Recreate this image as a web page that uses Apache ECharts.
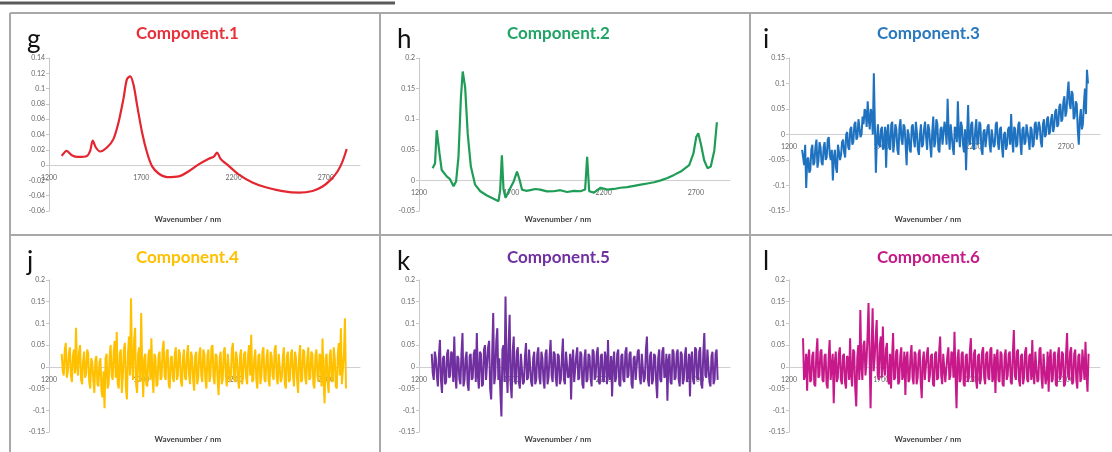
<!DOCTYPE html>
<html>
<head>
<meta charset="utf-8">
<script src="https://cdn.jsdelivr.net/npm/echarts@6/dist/echarts.min.js"></script>
<style>
  html, body { margin: 0; padding: 0; background: #fff; }
  #chart { width: 1112px; height: 452px; }
</style>
</head>
<body>
<div id="chart"></div>
<script>
// 组分光谱数据
const c1Wl = [1269,1296,1323,1359,1405,1423,1437,1454,1477,1514,1549,1577,1604,1622,1640,1658,1677,1704,1731,1758,1794,1840,1903,1957,2011,2066,2093,2111,2129,2175,2229,2302,2374,2465,2555,2628,2682,2727,2764,2791,2813];
const c1Val = [0.012,0.0187,0.013,0.0107,0.012,0.0187,0.032,0.023,0.0178,0.023,0.034,0.056,0.0876,0.112,0.116,0.105,0.0787,0.043,0.0164,-0.0013,-0.011,-0.0156,-0.0147,-0.008,0.001,0.0084,0.011,0.0164,0.0084,-0.0013,-0.0124,-0.0227,-0.029,-0.034,-0.036,-0.0338,-0.028,-0.019,-0.008,0.0053,0.021];

const c2Wl = [1274,1287,1296,1311,1323,1350,1368,1387,1401,1414,1427,1437,1450,1464,1481,1504,1532,1568,1604,1631,1640,1649,1658,1669,1686,1713,1731,1745,1758,1780,1803,1830,1857,1893,1930,1966,2002,2040,2075,2100,2111,2122,2148,2184,2220,2256,2292,2328,2365,2401,2437,2474,2510,2546,2582,2618,2664,2687,2702,2713,2727,2745,2763,2781,2800,2814];
const c2Val = [0.020,0.028,0.082,0.044,0.017,0.0065,0.002,-0.0097,-0.0016,0.039,0.135,0.178,0.152,0.076,0.0226,-0.007,-0.0177,-0.0247,-0.030,-0.0339,-0.015,0.041,-0.015,-0.0285,-0.0177,-0.0016,0.0145,0.001,-0.015,-0.017,-0.016,-0.014,-0.015,-0.018,-0.0177,-0.016,-0.019,-0.017,-0.0177,-0.015,0.0387,-0.0177,-0.020,-0.012,-0.015,-0.014,-0.012,-0.011,-0.009,-0.007,-0.005,-0.003,0.000,0.004,0.009,0.0145,0.025,0.044,0.071,0.077,0.060,0.033,0.020,0.0226,0.049,0.095];

// 噪声较大的组分：等间隔采样，起止波长 + 数值
const c3Range = [1271, 2820];
const c3Val = [
  -0.03,-0.045,-0.06,-0.02,-0.105,-0.05,-0.045,-0.075,-0.07,-0.03,
  -0.02,-0.06,-0.055,-0.025,-0.01,-0.065,-0.05,-0.015,-0.025,-0.055,
  -0.06,-0.025,-0.015,-0.05,-0.045,-0.01,-0.005,-0.04,-0.05,-0.03,
  -0.09,-0.045,-0.03,-0.065,-0.075,-0.02,-0.02,-0.05,-0.04,-0.015,
  -0.01,-0.035,-0.045,0.0,0.005,-0.025,-0.03,0.01,0.015,-0.02,
  -0.015,0.02,0.025,-0.01,-0.005,0.03,0.03,-0.005,0.0,0.035,
  0.02,0.05,0.045,0.015,0.065,0.03,0.01,0.05,0.04,0.0,
  0.12,0.02,-0.075,-0.01,0.02,-0.02,-0.025,0.01,0.015,-0.03,
  -0.02,0.015,-0.065,0.005,0.02,-0.025,-0.03,0.02,0.025,-0.035,
  -0.015,0.02,0.01,-0.03,-0.04,0.015,0.03,-0.01,-0.02,0.02,
  0.015,-0.02,-0.06,0.01,0.0,-0.03,-0.035,0.015,0.02,-0.01,
  -0.025,0.025,0.005,-0.03,-0.04,0.0,0.02,-0.025,-0.02,0.01,
  0.025,-0.005,-0.03,0.02,0.01,-0.02,-0.045,0.005,0.035,-0.025,
  -0.015,0.03,0.02,-0.03,-0.035,0.01,0.015,-0.02,-0.02,0.025,
  0.01,-0.02,0.07,0.005,-0.03,0.02,0.02,-0.025,-0.04,0.015,
  0.01,-0.015,0.065,0.0,-0.025,0.025,0.015,-0.02,-0.035,0.01,
  -0.07,0.0,0.058,-0.015,-0.02,0.02,0.025,-0.025,-0.03,0.01,
  0.03,-0.02,-0.015,0.025,0.02,-0.03,-0.04,0.005,0.01,-0.025,
  -0.025,0.015,0.02,-0.02,-0.035,0.01,0.01,-0.025,-0.02,0.02,
  0.025,-0.015,-0.03,0.01,0.015,-0.025,-0.045,0.0,0.005,-0.03,
  -0.02,0.01,0.015,-0.02,0.04,-0.01,-0.035,0.015,0.01,-0.025,
  -0.02,0.02,0.025,-0.015,-0.04,0.01,0.015,-0.02,-0.015,0.02,
  0.02,-0.01,-0.03,0.015,0.01,-0.025,-0.02,0.02,0.025,-0.01,
  -0.01,0.025,0.015,-0.015,-0.025,0.02,0.03,-0.005,0.0,0.03,
  0.035,0.0,0.005,0.03,0.04,0.005,0.015,0.045,0.05,0.015,
  0.02,0.055,0.06,0.025,0.03,0.065,0.075,0.035,0.045,0.08,
  0.104,0.06,0.05,0.085,0.08,0.03,0.035,0.065,0.06,0.01,
  -0.02,0.03,0.05,0.01,0.02,0.06,0.09,0.04,0.127,0.1
];

const c4Range = [1269, 2809];
const c4Val = [
  0.03,-0.01,-0.02,0.04,0.055,-0.025,-0.01,0.03,0.045,-0.02,
  -0.035,0.025,0.04,-0.015,0.09,0.0,-0.02,0.035,0.05,-0.03,
  -0.04,0.015,0.035,-0.025,-0.015,0.04,0.03,-0.035,-0.05,0.02,
  0.01,-0.03,-0.06,0.015,0.025,-0.04,-0.045,0.01,0.02,-0.055,
  -0.07,-0.01,-0.095,0.02,0.03,-0.05,-0.04,0.025,0.05,-0.02,
  -0.03,0.035,0.06,-0.025,0.08,-0.04,-0.05,0.03,0.04,-0.06,
  -0.02,0.04,0.055,-0.05,-0.075,0.03,0.07,-0.02,0.158,0.01,
  -0.03,0.06,0.09,-0.04,-0.06,0.03,0.045,-0.035,0.124,0.0,
  -0.07,0.02,0.03,-0.04,-0.045,0.025,0.04,-0.03,0.066,-0.02,
  -0.06,0.03,0.02,-0.045,-0.04,0.025,0.035,-0.03,-0.025,0.04,
  0.06,-0.02,-0.03,0.035,0.04,-0.04,-0.05,0.02,0.025,-0.025,
  -0.035,0.03,0.045,-0.03,-0.02,0.04,0.03,-0.035,-0.045,0.02,
  0.04,-0.025,-0.03,0.03,0.05,-0.02,-0.04,0.035,0.02,-0.03,
  -0.055,0.025,0.035,-0.04,-0.025,0.03,0.045,-0.02,-0.035,0.04,
  0.03,-0.03,-0.05,0.025,0.04,-0.035,-0.02,0.045,0.05,-0.025,
  -0.04,0.03,0.025,-0.03,-0.065,0.02,0.035,-0.04,-0.03,0.035,
  0.045,-0.02,-0.045,0.03,0.03,-0.035,-0.02,0.04,0.055,-0.025,
  -0.035,0.035,0.02,-0.03,-0.05,0.025,0.04,-0.04,-0.025,0.03,
  0.035,-0.025,-0.04,0.03,0.05,-0.02,0.074,-0.035,-0.03,0.02,
  0.04,-0.03,-0.05,0.025,0.03,-0.04,-0.02,0.035,0.045,-0.03,
  -0.035,0.02,0.04,-0.03,-0.045,0.035,0.025,-0.02,-0.03,0.04,
  0.05,-0.025,-0.04,0.03,0.03,-0.035,-0.025,0.02,0.045,-0.04,
  -0.05,0.025,0.035,-0.035,-0.03,0.03,0.04,-0.02,-0.045,0.035,
  0.02,-0.03,-0.06,0.025,0.05,-0.035,-0.03,0.04,0.035,-0.025,
  -0.04,0.02,0.045,-0.03,-0.025,0.035,0.03,-0.04,-0.05,0.025,
  0.04,-0.02,-0.035,0.03,0.025,-0.045,0.065,-0.03,-0.084,0.02,
  0.03,-0.035,-0.06,0.025,0.04,-0.03,-0.035,0.045,0.02,-0.045,
  -0.05,0.03,0.055,-0.02,0.089,-0.04,-0.04,0.03,0.112,-0.05
];

const c5Range = [1269, 2818];
const c5Val = [
  0.03,-0.015,-0.03,0.035,0.02,-0.02,-0.045,0.025,0.062,-0.03,
  -0.06,0.02,0.025,-0.04,-0.035,0.03,0.04,-0.025,-0.02,0.035,
  0.03,-0.035,0.07,-0.02,-0.05,0.025,0.02,-0.03,-0.04,0.03,
  0.078,-0.045,-0.03,0.02,0.035,-0.04,-0.055,0.025,0.03,-0.03,
  -0.025,0.03,0.04,-0.035,0.078,-0.02,-0.05,0.035,0.03,-0.045,
  -0.04,0.04,0.05,-0.03,-0.03,0.045,0.06,-0.05,-0.075,0.03,
  0.124,-0.04,-0.02,0.06,0.089,-0.03,0.02,-0.06,-0.114,0.04,
  0.05,-0.035,0.162,0.0,-0.06,0.05,0.12,-0.04,-0.072,0.035,
  0.07,-0.03,-0.04,0.035,0.045,-0.035,-0.05,0.03,0.03,-0.04,
  -0.035,0.025,0.055,-0.03,-0.025,0.04,0.04,-0.035,-0.045,0.02,
  0.035,-0.04,-0.03,0.03,0.045,-0.025,-0.04,0.035,0.02,-0.03,
  -0.05,0.03,0.04,-0.04,-0.025,0.025,0.062,-0.02,-0.035,0.035,
  0.03,-0.025,-0.045,0.03,0.025,-0.04,-0.03,0.02,0.065,-0.03,
  -0.04,0.035,0.035,-0.025,-0.02,0.03,-0.075,0.015,0.04,-0.035,
  -0.035,0.025,0.045,-0.03,-0.025,0.035,0.03,-0.04,-0.05,0.02,
  0.04,-0.035,-0.03,0.03,0.025,-0.025,-0.045,0.04,0.035,-0.03,
  -0.02,0.03,0.045,-0.035,-0.04,0.025,0.03,-0.03,-0.035,0.035,
  0.02,-0.04,0.062,-0.02,-0.03,0.025,-0.068,0.01,0.035,-0.035,
  -0.025,0.03,0.04,-0.04,-0.045,0.025,0.03,-0.03,-0.035,0.035,
  0.045,-0.025,-0.02,0.03,0.035,-0.04,-0.05,0.02,0.025,-0.03,
  -0.03,0.035,0.04,-0.025,-0.04,0.03,0.03,-0.035,-0.025,0.04,
  0.07,-0.03,-0.045,0.025,0.035,-0.04,-0.03,0.03,0.025,-0.035,
  -0.072,0.02,0.04,-0.03,-0.035,0.035,0.045,-0.025,-0.02,0.03,
  -0.078,0.015,0.03,-0.035,-0.04,0.04,0.035,-0.03,-0.025,0.03,
  0.04,-0.03,-0.045,0.035,0.03,-0.04,-0.03,0.025,0.045,-0.035,
  -0.02,0.03,-0.068,0.02,0.035,-0.03,-0.04,0.045,0.04,-0.025,
  -0.03,0.035,0.045,-0.04,-0.05,0.03,0.078,-0.02,-0.025,0.04,
  0.04,-0.035,-0.045,0.025,0.035,-0.04,-0.03,0.03,0.04,-0.03
];

const c6Range = [1276, 2823];
const c6Val = [
  0.066,-0.03,-0.02,0.03,-0.055,0.02,0.04,-0.035,-0.03,0.025,
  0.035,-0.04,-0.045,0.03,0.066,-0.025,-0.02,0.035,0.04,-0.03,
  -0.035,0.025,0.03,-0.04,-0.05,0.02,0.062,-0.03,-0.03,0.03,
  -0.084,0.01,0.035,-0.035,-0.025,0.03,0.045,-0.03,-0.04,0.025,
  0.03,-0.035,-0.05,0.025,0.02,-0.03,0.066,-0.02,-0.045,0.04,
  0.035,-0.05,-0.091,0.02,0.05,-0.03,0.131,0.0,-0.03,0.05,
  0.06,-0.02,0.01,0.07,0.147,0.03,-0.095,0.04,0.135,-0.01,
  0.02,0.07,0.108,-0.02,-0.03,0.05,0.07,-0.025,0.093,0.0,
  -0.02,0.04,0.055,-0.03,-0.04,0.03,-0.05,0.02,0.078,-0.03,
  -0.025,0.035,0.04,-0.04,-0.035,0.025,0.045,-0.03,-0.02,0.035,
  -0.065,0.02,0.035,-0.035,-0.03,0.025,0.05,-0.025,-0.04,0.035,
  0.03,-0.04,-0.025,0.03,0.04,-0.035,-0.072,0.015,0.035,-0.03,
  -0.03,0.03,0.045,-0.035,-0.02,0.025,0.03,-0.04,-0.045,0.03,
  0.035,-0.03,-0.025,0.035,0.07,-0.02,-0.04,0.03,0.03,-0.035,
  -0.035,0.025,0.045,-0.03,-0.02,0.035,0.03,-0.025,0.081,-0.02,
  -0.095,0.02,0.04,-0.035,-0.03,0.03,0.035,-0.04,-0.045,0.025,
  0.03,-0.035,-0.025,0.035,0.066,-0.02,-0.035,0.03,0.04,-0.03,
  -0.05,0.025,0.03,-0.04,-0.02,0.035,0.045,-0.025,-0.04,0.03,
  0.035,-0.025,-0.03,0.04,0.045,-0.035,-0.025,0.03,-0.06,0.02,
  0.04,-0.03,-0.035,0.035,0.03,-0.04,-0.045,0.025,0.04,-0.03,
  -0.02,0.03,0.035,-0.035,-0.04,0.03,0.085,-0.02,-0.03,0.035,
  0.04,-0.03,-0.045,0.025,0.03,-0.04,-0.025,0.035,0.045,-0.03,
  -0.035,0.025,0.03,-0.03,0.062,-0.02,-0.04,0.035,0.035,-0.035,
  -0.03,0.04,0.045,-0.025,-0.05,0.03,0.03,-0.04,-0.025,0.035,
  -0.057,0.02,0.04,-0.035,-0.03,0.03,0.035,-0.04,-0.045,0.025,
  0.045,-0.03,-0.02,0.035,0.03,-0.045,-0.04,0.03,0.078,-0.02,
  -0.03,0.035,0.045,-0.04,-0.035,0.03,0.04,-0.03,-0.05,0.025,
  0.03,-0.035,-0.025,0.04,0.04,-0.03,0.058,-0.02,-0.057,0.03
];

const titles = ['Component.1', 'Component.2', 'Component.3', 'Component.4', 'Component.5', 'Component.6'];
const letters = ['g', 'h', 'i', 'j', 'k', 'l'];
const lineColors = ['#e3262f', '#1f9d57', '#1f72bf', '#ffc000', '#7030a0', '#c8198a'];
const titleColors = ['#e8303a', '#22a466', '#2a78bd', '#ffc000', '#7030a0', '#c41a88'];
const yMin = [-0.06, -0.05, -0.15, -0.15, -0.15, -0.15];
const yMax = [0.14, 0.2, 0.15, 0.2, 0.2, 0.2];
const yStep = [0.02, 0.05, 0.05, 0.05, 0.05, 0.05];
const xTicks = [1200, 1700, 2200, 2700];

// 等间隔波长
function evenWl(range, n) {
  const step = (range[1] - range[0]) / (n - 1);
  return Array.from({ length: n }, (_, i) => range[0] + i * step);
}
function zip(wl, val) {
  return val.map((v, i) => [wl[i], v]);
}

const seriesData = [
  zip(c1Wl, c1Val),
  zip(c2Wl, c2Val),
  zip(evenWl(c3Range, c3Val.length), c3Val),
  zip(evenWl(c4Range, c4Val.length), c4Val),
  zip(evenWl(c5Range, c5Val.length), c5Val),
  zip(evenWl(c6Range, c6Val.length), c6Val)
];

// 每个小图的绘图区
const panelLeft = [49, 419, 789];
const rowTop = [58, 280];
const rowHeight = [153, 152];
const nameY = [220, 440];
const titleY = [25, 249];
const titleX = [196, 567, 937];
const panelW = 311;

const chart = echarts.init(document.getElementById('chart'), null, { renderer: 'canvas' });

const grids = [], xAxes = [], yAxes = [], series = [], graphics = [];

for (let p = 0; p < 6; p++) {
  const col = p % 3, row = Math.floor(p / 3);
  const top = rowTop[row], h = rowHeight[row];
  grids.push({ left: panelLeft[col], top: top, width: panelW, height: h });
  const zeroY = top + h * yMax[p] / (yMax[p] - yMin[p]);
  xAxes.push({
    type: 'value', gridIndex: p, min: 1200, max: 2885, interval: 500,
    position: 'bottom',
    offset: -(top + h - zeroY),
    axisLine: { onZero: false, lineStyle: { color: '#cfcfcf', width: 1 } },
    axisTick: { show: false },
    splitLine: { show: false },
    axisLabel: {
      fontSize: 7, color: '#666', margin: 9, fontFamily: 'Lato',
      showMaxLabel: false,
      formatter: v => (xTicks.indexOf(v) >= 0 ? String(v) : '')
    }
  });
  yAxes.push({
    type: 'value', gridIndex: p, min: yMin[p], max: yMax[p], interval: yStep[p],
    axisLine: { show: true, lineStyle: { color: '#c8c8c8', width: 1 } },
    axisTick: { show: true, length: 3, lineStyle: { color: '#c8c8c8' } },
    splitLine: { show: false },
    axisLabel: {
      fontSize: 7, color: '#666', margin: 4, fontFamily: 'Lato',
      formatter: v => String(+v.toFixed(3))
    }
  });
  series.push({
    type: 'line', xAxisIndex: p, yAxisIndex: p,
    data: seriesData[p], showSymbol: false,
    smooth: p === 0 ? 0.3 : false,
    sampling: null,
    lineStyle: { color: lineColors[p], width: p < 2 ? 2.2 : 2 },
    itemStyle: { color: lineColors[p] },
    silent: true, animation: false
  });
  graphics.push({
    type: 'text', left: titleX[col] - 60, top: titleY[row],
    style: { text: titles[p], fill: titleColors[p], font: 'bold 17px Lato', width: 120, align: 'center' }
  });
  graphics.push({
    type: 'text', left: [27, 397, 763][col], top: [27, 249][row],
    style: { text: letters[p], fill: '#111', font: '26px Lato' }
  });
  graphics.push({
    type: 'text', left: panelLeft[col] + panelW / 2 - 50, top: nameY[row] - 5,
    style: { text: 'Wavenumber / nm', fill: '#404040', font: 'bold 8px Lato', width: 100, align: 'center' }
  });
}

// 面板边框
const frame = { stroke: '#a8a8a8', lineWidth: 2 };
graphics.push(
  { type: 'line', shape: { x1: 0, y1: 3, x2: 395, y2: 3 }, style: { stroke: '#5a5a5a', lineWidth: 3 } },
  { type: 'line', shape: { x1: 10, y1: 13, x2: 1112, y2: 13 }, style: frame },
  { type: 'line', shape: { x1: 10, y1: 13, x2: 10, y2: 452 }, style: frame },
  { type: 'line', shape: { x1: 380, y1: 13, x2: 380, y2: 452 }, style: frame },
  { type: 'line', shape: { x1: 750, y1: 13, x2: 750, y2: 452 }, style: frame },
  { type: 'line', shape: { x1: 10, y1: 235, x2: 1112, y2: 235 }, style: frame }
);

chart.setOption({
  animation: false,
  backgroundColor: '#fff',
  grid: grids,
  xAxis: xAxes,
  yAxis: yAxes,
  series: series,
  graphic: graphics
});
</script>
</body>
</html>
